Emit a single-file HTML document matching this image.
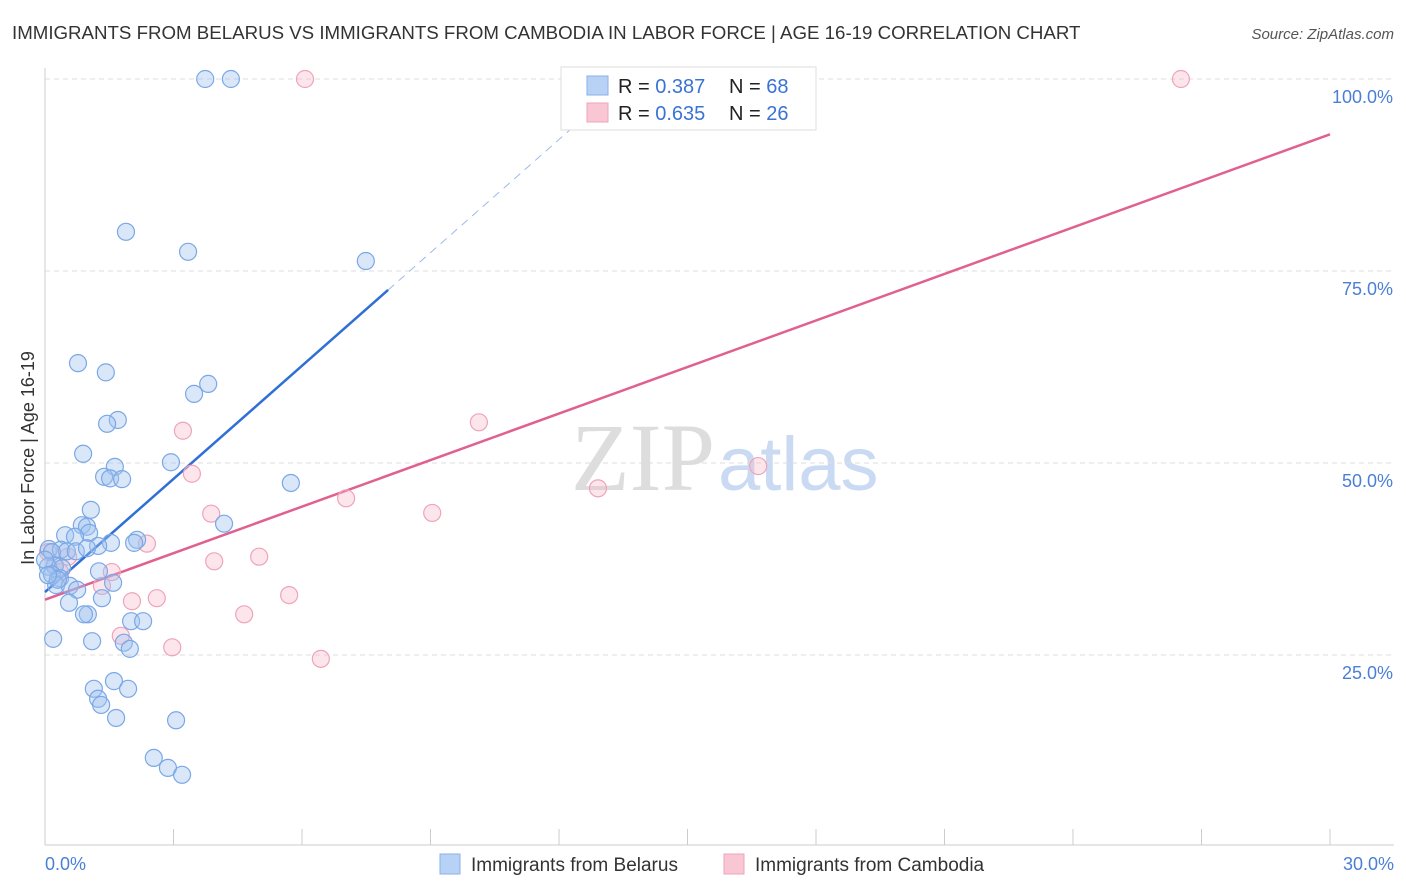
<!DOCTYPE html>
<html><head><meta charset="utf-8"><style>
body{margin:0;background:#fff;font-family:"Liberation Sans",sans-serif;}
svg{display:block}
</style></head><body>
<svg id="c" width="1406" height="892" xmlns="http://www.w3.org/2000/svg">
<text x="12" y="39" font-size="18.7" fill="#333">IMMIGRANTS FROM BELARUS VS IMMIGRANTS FROM CAMBODIA IN LABOR FORCE | AGE 16-19 CORRELATION CHART</text>
<text x="1394" y="39" font-size="15" fill="#555" font-style="italic" text-anchor="end">Source: ZipAtlas.com</text>
<text x="715" y="490" font-size="96" fill="#ddd" text-anchor="end" font-family="Liberation Serif,serif">ZIP</text>
<text x="718" y="490" font-size="76" fill="#c9daf2">atlas</text>
<g id="grid"></g><g id="trend"></g><g id="pts"></g>
<text x="34" y="458" font-size="18" fill="#333" text-anchor="middle" transform="rotate(-90 34 458)">In Labor Force | Age 16-19</text>
<text x="45" y="870" font-size="18" fill="#4a7fd6">0.0%</text>
<text x="1394" y="870" font-size="18" fill="#4a7fd6" text-anchor="end">30.0%</text>
<g>
<rect x="561" y="67" width="255" height="63" fill="#fff" stroke="#ddd"/>
<rect x="587" y="76" width="21" height="19" fill="#b8d2f5" stroke="#8ab0e8"/>
<rect x="587" y="103" width="21" height="19" fill="#f9c6d4" stroke="#eea4bb"/>
<text x="618" y="93" font-size="20" fill="#222">R = <tspan fill="#3a73d4">0.387</tspan></text>
<text x="729" y="93" font-size="20" fill="#222">N = <tspan fill="#3a73d4">68</tspan></text>
<text x="618" y="120" font-size="20" fill="#222">R = <tspan fill="#3a73d4">0.635</tspan></text>
<text x="729" y="120" font-size="20" fill="#222">N = <tspan fill="#3a73d4">26</tspan></text>
</g>
<g>
<rect x="440" y="854" width="20" height="20" fill="#b8d2f5" stroke="#8ab0e8"/>
<text x="471" y="871" font-size="19" fill="#333">Immigrants from Belarus</text>
<rect x="724" y="854" width="20" height="20" fill="#f9c6d4" stroke="#eea4bb"/>
<text x="755" y="871" font-size="19" fill="#333">Immigrants from Cambodia</text>
</g>
</svg>
<script>
const yTicks=[25,50,75,100];
const yTickLabels=["25.0%","50.0%","75.0%","100.0%"];
const xTicks=[0,3,6,9,12,15,18,21,24,27,30];
const belarusX=[3.74,4.34,1.89,3.34,7.49,0.77,1.42,3.81,3.48,1.70,1.45,0.89,2.94,1.63,1.38,1.52,1.80,5.74,1.07,4.18,0.86,0.98,0.47,1.03,0.70,2.15,1.54,2.08,1.24,0.09,0.37,0.51,0.72,0.16,0.98,0.23,0.07,0.40,1.26,0.16,0.35,1.59,0.26,0.58,0.75,0.56,1.33,1.00,0.91,2.01,2.29,0.19,1.10,1.84,1.98,1.61,1.14,1.94,1.24,1.31,1.66,3.06,2.54,2.87,3.20,0.30,0.00,0.07];
const belarusY=[100,100,80.1,77.5,76.3,63.0,61.8,60.3,59.0,55.6,55.1,51.2,50.1,49.5,48.2,48.0,47.9,47.4,43.9,42.1,41.9,41.7,40.6,40.9,40.4,40.0,39.6,39.6,39.2,38.8,38.7,38.5,38.5,38.4,38.9,36.6,36.5,36.3,35.9,35.5,35.0,34.4,34.1,34.0,33.5,31.8,32.4,30.3,30.3,29.4,29.4,27.1,26.8,26.6,25.8,21.6,20.6,20.6,19.3,18.5,16.8,16.5,11.6,10.3,9.4,34.8,37.4,35.4];
const cambodiaX=[6.07,26.52,10.13,3.22,3.43,16.65,12.91,7.03,9.04,3.88,2.38,5.00,3.95,0.54,1.56,5.70,2.61,2.03,1.33,4.65,1.77,2.97,6.44,0.07,0.23,0.35];
const cambodiaY=[100,100,55.3,54.2,48.6,49.6,46.7,45.4,43.5,43.4,39.5,37.8,37.2,37.8,35.8,32.8,32.4,32.0,34.0,30.3,27.5,26.0,24.5,38.4,36.7,35.8];
const belarusTrend=[33.2,4.91];
const cambodiaTrend=[32.2,2.02];
const X=v=>45+v*(1285/30), Y=v=>847-v*7.68;
const NS="http://www.w3.org/2000/svg";
function mk(p,t,a){const e=document.createElementNS(NS,t);for(const k in a)e.setAttribute(k,a[k]);document.getElementById(p).appendChild(e);return e;}
let e;
e=mk('grid','line',{x1:45,x2:1394,y1:845,y2:845,stroke:'#ccc'});


e=mk('grid','line',{x1:45,x2:45,y1:68,y2:845,stroke:'#ccc'});


xTicks.forEach(t=>{e=mk('grid','line',{x1:X(t),x2:X(t),y1:829,y2:845,stroke:'#ccc'});

});
yTicks.forEach((t,i)=>{e=mk('grid','line',{x1:45,x2:1394,y1:Y(t),y2:Y(t),stroke:'#ddd','stroke-dasharray':'5,4'});


e=mk('grid','text',{x:1393,y:Y(t)+24,'font-size':18,fill:'#4a7fd6','text-anchor':'end'});e.textContent=yTickLabels[i];

});
const bx=8.01;
e=mk('trend','line',{x1:X(0),y1:Y(belarusTrend[0]),x2:X(bx),y2:Y(belarusTrend[0]+belarusTrend[1]*bx),stroke:'#2f6fd6','stroke-width':2.5});


const bx2=12.7;
e=mk('trend','line',{x1:X(bx),y1:Y(belarusTrend[0]+belarusTrend[1]*bx),x2:X(bx2),y2:Y(belarusTrend[0]+belarusTrend[1]*bx2),stroke:'#9bbbe8','stroke-width':1,'stroke-dasharray':'8,6'});


e=mk('trend','line',{x1:X(0),y1:Y(cambodiaTrend[0]),x2:X(30),y2:Y(cambodiaTrend[0]+cambodiaTrend[1]*30),stroke:'#e0608f','stroke-width':2.5});


cambodiaX.forEach((v,i)=>{e=mk('pts','circle',{cx:X(v),cy:Y(cambodiaY[i]),r:8.5,fill:'rgba(248,180,200,0.35)',stroke:'#eea4bb','stroke-width':1.2});

});
belarusX.forEach((v,i)=>{e=mk('pts','circle',{cx:X(v),cy:Y(belarusY[i]),r:8.5,fill:'rgba(160,195,240,0.4)',stroke:'#7aa8e6','stroke-width':1.2});

});
</script>
</body></html>
